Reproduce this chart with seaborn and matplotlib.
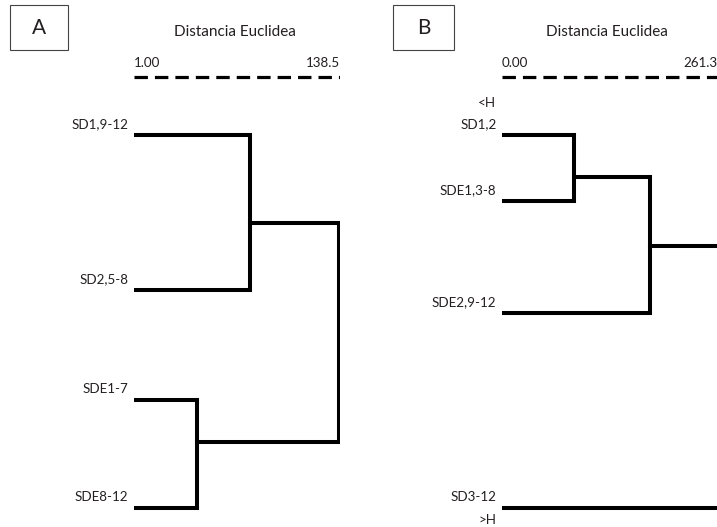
import matplotlib
matplotlib.use("Agg")
import matplotlib.pyplot as plt
import seaborn as sns
import pandas as pd
from matplotlib.patches import Rectangle

sns.set_theme(style="white")
plt.rcParams['font.family'] = ['Lato', 'DejaVu Sans']

# ---------------- data ----------------
# Panel A
a_leaves = ["SD1,9-12", "SD2,5-8", "SDE1-7", "SDE8-12"]
a_leaf_pos = [135, 290, 400, 508]          # vertical row positions (top-down)
a_scale = [1.00, 138.5]
# merges: (child1, child2, height, row position); ids >= n leaves are merges
a_merges = [(0, 1, 78.4, 223), (2, 3, 43.0, 442), (4, 5, 138.0, 332)]

# Panel B
b_leaves = ["SD1,2", "SDE1,3-8", "SDE2,9-12", "SD3-12"]
b_leaf_pos = [135, 200.7, 312.7, 508]
b_scale = [0.00, 261.3]
b_merges = [(0, 1, 86.3, 177), (4, 2, 176.2, 245.7), (5, 3, 261.3, 377)]

INK = "#231f20"
FS = 9.6


def segments(leaf_pos, merges, base):
    n = len(leaf_pos)
    height = {i: base for i in range(n)}
    ypos = {i: p for i, p in enumerate(leaf_pos)}
    rows = []
    seg = 0
    for k, (c1, c2, h, yp) in enumerate(merges):
        nid = n + k
        for c in (c1, c2):
            rows += [dict(seg=seg, x=height[c], y=ypos[c]), dict(seg=seg, x=h, y=ypos[c])]
            seg += 1
        rows += [dict(seg=seg, x=h, y=ypos[c1]), dict(seg=seg, x=h, y=ypos[c2])]
        seg += 1
        height[nid] = h
        ypos[nid] = yp
    return pd.DataFrame(rows)


W, H = 717, 527
fig = plt.figure(figsize=(W / 100, H / 100), dpi=100)

overlay = fig.add_axes([0, 0, 1, 1])
overlay.set_xlim(0, W)
overlay.set_ylim(H, 0)
overlay.axis("off")


def panel(left_px, right_px, label_right_px, scale, leaves, leaf_pos, merges):
    ax = fig.add_axes([left_px / W, 0, (right_px - left_px) / W, 1])
    ax.set_xlim(scale[0], scale[1])
    ax.set_ylim(H, 0)
    ax.axis("off")
    df = segments(leaf_pos, merges, scale[0])
    sns.lineplot(data=df, x="x", y="y", units="seg", estimator=None, sort=False,
                 color="black", linewidth=2.9, ax=ax, legend=False,
                 solid_capstyle="projecting")
    # dashed scale bar
    ax.plot(scale, [77, 77], color="black", linewidth=2.3,
            linestyle=(0, (4.2, 2.2)), solid_capstyle="butt")
    ax.text(scale[0], 67, f"{scale[0]:.2f}", ha="left", va="baseline", fontsize=FS, color=INK)
    overlay.text(label_right_px, 67, f"{scale[1]}", ha="right", va="baseline", fontsize=FS, color=INK)
    for name, p in zip(leaves, leaf_pos):
        ax.annotate(name, xy=(scale[0], p), xytext=(-4, 3.5), textcoords="offset points",
                    ha="right", va="bottom", fontsize=FS, color=INK)
    return ax


axA = panel(134, 340, 340, a_scale, a_leaves, a_leaf_pos, a_merges)
axB = panel(502, 717 + 4, 717, b_scale, b_leaves, b_leaf_pos, b_merges)
axB.annotate("<H", xy=(b_scale[0], b_leaf_pos[0]), xytext=(-4, 19), textcoords="offset points",
             ha="right", va="bottom", fontsize=FS, color=INK)
axB.annotate(">H", xy=(b_scale[0], b_leaf_pos[-1]), xytext=(-4, -4), textcoords="offset points",
             ha="right", va="top", fontsize=FS, color=INK)

# titles and panel boxes
overlay.text(235, 32, "Distancia Euclidea", ha="center", va="center", fontsize=11, color=INK)
overlay.text(607, 32, "Distancia Euclidea", ha="center", va="center", fontsize=11, color=INK)
for x0, x1, lab in [(10, 68, "A"), (393, 454, "B")]:
    overlay.add_patch(Rectangle((x0, 5), x1 - x0, 45, fill=False, edgecolor="#444444", linewidth=0.8))
    overlay.text((x0 + x1) / 2, 28, lab, ha="center", va="center", fontsize=15, color=INK)

fig.savefig("out.png", dpi=100, facecolor="white")
